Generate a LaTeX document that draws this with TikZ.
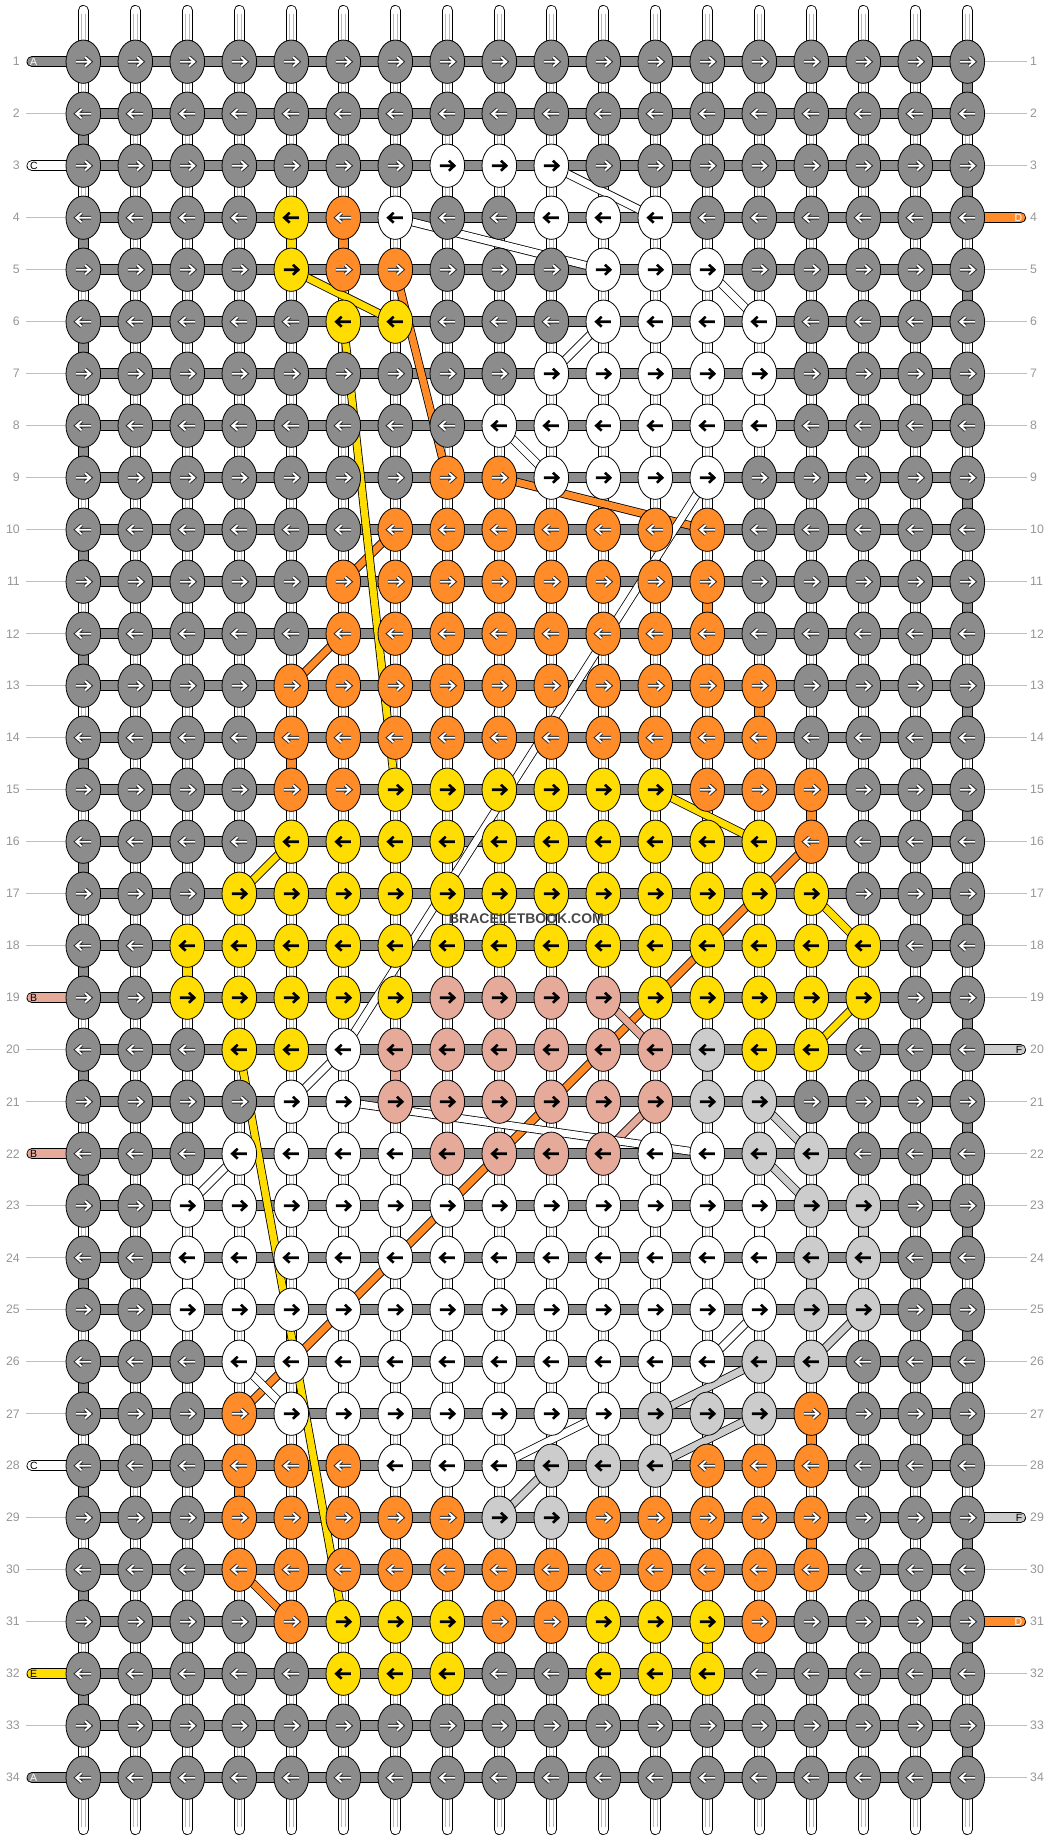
\documentclass[tikz,border=0pt]{standalone}
\usepackage{fontspec}
\setmainfont{Liberation Sans}
\usetikzlibrary{shapes.geometric}
\definecolor{cG}{RGB}{140,140,140}
\definecolor{cW}{RGB}{255,255,255}
\definecolor{cO}{RGB}{255,140,40}
\definecolor{cY}{RGB}{255,221,0}
\definecolor{cS}{RGB}{230,170,155}
\definecolor{cL}{RGB}{204,204,204}
\definecolor{numgray}{RGB}{150,150,150}
\definecolor{guide}{RGB}{190,190,190}
\definecolor{strline}{RGB}{185,185,185}
\newcommand\vcn[4]{\draw[vbar, double=#1] (p-#2-#3) -- (p-#2-#4);}
\newcommand\dgl[5]{\draw[band, double=#1] (p-#2-#3) -- (p-#4-#5);}
\newcommand\arrdark{%
  \draw[black!85, line width=3.8pt, line join=miter] (-7.5,0) -- (6.2,0) (1.8,-4.6) -- (7,0) -- (1.8,4.6);
  \draw[white, line width=1.9pt, line join=miter] (-7.5,0) -- (6.2,0) (1.8,-4.6) -- (7,0) -- (1.8,4.6);}
\newcommand\arrlight{%
  \draw[black, line width=2.6pt, line join=miter] (-7.5,0) -- (6.2,0) (1.6,-5) -- (7,0) -- (1.6,5);}
\def\mydG{G}\def\mydO{O}
\begin{document}
\begin{tikzpicture}[x=1pt,y=-1pt,
  knot/.style={ellipse, draw=black, line width=0.8pt, minimum width=34.6pt, minimum height=43.3pt, inner sep=0pt},
  band/.style={draw=black, line width=0.8pt, double distance=7pt},
  vbar/.style={draw=black, line width=0.8pt, double distance=9.4pt},
  num/.style={font=\fontsize{12.3}{13}\selectfont, text=numgray, inner sep=0pt},
  stubtxt/.style={font=\fontsize{10.5}{11}\selectfont, inner sep=0pt},
  guideline/.style={draw=guide, line width=0.8pt}]
\useasboundingbox (0,0) rectangle (1052,1840);
% grid coordinates
\foreach \r in {1,...,34} {
  \foreach \c in {1,...,18} {
    \coordinate (p-\c-\r) at ({83.3+52*(\c-1)},{61.7+52*(\r-1)});
  }
  \coordinate (ls-\r) at (32,{61.7+52*(\r-1)});
  \coordinate (rs-\r) at (1020.5,{61.7+52*(\r-1)});
  \coordinate (lg-\r) at (26,{61.7+52*(\r-1)});
  \coordinate (rg-\r) at (1027,{61.7+52*(\r-1)});
}
% vertical strings
\foreach \c in {1,...,18} {
  \coordinate (t-\c) at ({83.3+52*(\c-1)},10.5);
  \coordinate (b-\c) at ({83.3+52*(\c-1)},1829.5);
  \draw[vbar, double=white, line cap=round] (t-\c) -- (b-\c);
  \draw[strline, line width=0.7pt] ([xshift=-2pt,yshift=-3pt]t-\c) -- ([xshift=-2pt,yshift=3pt]b-\c)
       ([xshift=2pt,yshift=-3pt]t-\c) -- ([xshift=2pt,yshift=3pt]b-\c);
}
% horizontal bars (string A)
\foreach \r in {1,...,34} { \draw[vbar, double=cG] (p-1-\r) -- (p-18-\r); }
% turning of A at the edges
\foreach \r [evaluate=\r as \rn using int(\r+1)] in {1,3,...,33} { \vcn{cG}{18}{\r}{\rn} }
\foreach \r [evaluate=\r as \rn using int(\r+1)] in {2,4,...,32} { \vcn{cG}{1}{\r}{\rn} }
% guide lines
\foreach \r in {2,4,5,6,7,8,9,10,11,12,13,14,15,16,17,18,20,21,23,24,25,26,27,29,30,31,33} { \draw[guideline] (lg-\r) -- (p-1-\r); }
\foreach \r in {1,2,3,5,6,7,8,9,10,11,12,13,14,15,16,17,18,19,21,22,23,24,25,26,27,28,30,32,33,34} { \draw[guideline] (rg-\r) -- (p-18-\r); }
% stubs
\foreach \r/\col in {1/cG,3/cW,19/cS,22/cS,28/cW,32/cY,34/cG} { \draw[vbar, double=\col, line cap=round] (ls-\r) -- (p-1-\r); }
\foreach \r/\col in {4/cO,20/cL,29/cL,31/cO} { \draw[vbar, double=\col, line cap=round] (rs-\r) -- (p-18-\r); }
% vertical connectors
\vcn{cO}{6}{4}{5} \vcn{cO}{13}{11}{12} \vcn{cO}{14}{13}{14} \vcn{cO}{5}{14}{15}
\vcn{cO}{15}{15}{16} \vcn{cO}{15}{27}{28} \vcn{cO}{4}{28}{29} \vcn{cO}{15}{29}{30}
\vcn{cY}{5}{4}{5} \vcn{cY}{3}{18}{19} \vcn{cY}{13}{31}{32}
\vcn{cW}{14}{7}{8} \vcn{cW}{14}{23}{24} \vcn{cW}{3}{24}{25}
\vcn{cS}{7}{20}{21}
\vcn{cL}{13}{20}{21} \vcn{cL}{16}{23}{24} \vcn{cL}{15}{24}{25}
% diagonal connectors
\dgl{cO}{7}{5}{8}{9} \dgl{cO}{9}{9}{13}{10} \dgl{cO}{7}{10}{6}{11} \dgl{cO}{6}{12}{5}{13}
\dgl{cO}{15}{16}{4}{27} \dgl{cO}{4}{30}{5}{31}
\dgl{cY}{5}{5}{7}{6} \dgl{cY}{6}{6}{7}{15} \dgl{cY}{12}{15}{14}{16} \dgl{cY}{5}{16}{4}{17}
\dgl{cY}{15}{17}{16}{18} \dgl{cY}{16}{19}{15}{20} \dgl{cY}{4}{20}{6}{31}
\dgl{cL}{14}{21}{15}{22} \dgl{cL}{14}{22}{15}{23} \dgl{cL}{16}{25}{15}{26} \dgl{cL}{14}{26}{12}{27}
\dgl{cL}{14}{27}{12}{28} \dgl{cL}{10}{28}{9}{29}
\dgl{cS}{11}{19}{12}{20} \dgl{cS}{12}{21}{11}{22}
\dgl{cW}{10}{3}{12}{4} \dgl{cW}{7}{4}{11}{5} \dgl{cW}{13}{5}{14}{6} \dgl{cW}{11}{6}{10}{7}
\dgl{cW}{9}{8}{10}{9} \dgl{cW}{13}{9}{6}{20} \dgl{cW}{6}{20}{5}{21} \dgl{cW}{6}{21}{13}{22}
\dgl{cW}{4}{22}{3}{23} \dgl{cW}{14}{25}{13}{26} \dgl{cW}{4}{26}{5}{27} \dgl{cW}{11}{27}{9}{28}
% knots
\foreach \r/\row in {
1/{G,G,G,G,G,G,G,G,G,G,G,G,G,G,G,G,G,G},
2/{G,G,G,G,G,G,G,G,G,G,G,G,G,G,G,G,G,G},
3/{G,G,G,G,G,G,G,W,W,W,G,G,G,G,G,G,G,G},
4/{G,G,G,G,Y,O,W,G,G,W,W,W,G,G,G,G,G,G},
5/{G,G,G,G,Y,O,O,G,G,G,W,W,W,G,G,G,G,G},
6/{G,G,G,G,G,Y,Y,G,G,G,W,W,W,W,G,G,G,G},
7/{G,G,G,G,G,G,G,G,G,W,W,W,W,W,G,G,G,G},
8/{G,G,G,G,G,G,G,G,W,W,W,W,W,W,G,G,G,G},
9/{G,G,G,G,G,G,G,O,O,W,W,W,W,G,G,G,G,G},
10/{G,G,G,G,G,G,O,O,O,O,O,O,O,G,G,G,G,G},
11/{G,G,G,G,G,O,O,O,O,O,O,O,O,G,G,G,G,G},
12/{G,G,G,G,G,O,O,O,O,O,O,O,O,G,G,G,G,G},
13/{G,G,G,G,O,O,O,O,O,O,O,O,O,O,G,G,G,G},
14/{G,G,G,G,O,O,O,O,O,O,O,O,O,O,G,G,G,G},
15/{G,G,G,G,O,O,Y,Y,Y,Y,Y,Y,O,O,O,G,G,G},
16/{G,G,G,G,Y,Y,Y,Y,Y,Y,Y,Y,Y,Y,O,G,G,G},
17/{G,G,G,Y,Y,Y,Y,Y,Y,Y,Y,Y,Y,Y,Y,G,G,G},
18/{G,G,Y,Y,Y,Y,Y,Y,Y,Y,Y,Y,Y,Y,Y,Y,G,G},
19/{G,G,Y,Y,Y,Y,Y,S,S,S,S,Y,Y,Y,Y,Y,G,G},
20/{G,G,G,Y,Y,W,S,S,S,S,S,S,L,Y,Y,G,G,G},
21/{G,G,G,G,W,W,S,S,S,S,S,S,L,L,G,G,G,G},
22/{G,G,G,W,W,W,W,S,S,S,S,W,W,L,L,G,G,G},
23/{G,G,W,W,W,W,W,W,W,W,W,W,W,W,L,L,G,G},
24/{G,G,W,W,W,W,W,W,W,W,W,W,W,W,L,L,G,G},
25/{G,G,W,W,W,W,W,W,W,W,W,W,W,W,L,L,G,G},
26/{G,G,G,W,W,W,W,W,W,W,W,W,W,L,L,G,G,G},
27/{G,G,G,O,W,W,W,W,W,W,W,L,L,L,O,G,G,G},
28/{G,G,G,O,O,O,W,W,W,L,L,L,O,O,O,G,G,G},
29/{G,G,G,O,O,O,O,O,L,L,O,O,O,O,O,G,G,G},
30/{G,G,G,O,O,O,O,O,O,O,O,O,O,O,O,G,G,G},
31/{G,G,G,G,O,Y,Y,Y,O,O,Y,Y,Y,O,G,G,G,G},
32/{G,G,G,G,G,Y,Y,Y,G,G,Y,Y,Y,G,G,G,G,G},
33/{G,G,G,G,G,G,G,G,G,G,G,G,G,G,G,G,G,G},
34/{G,G,G,G,G,G,G,G,G,G,G,G,G,G,G,G,G,G}} {
  \foreach \k [count=\c] in \row {
    \node[knot, fill=c\k] (k-\c-\r) at (p-\c-\r) {};
    \edef\kk{\k}%
    \ifodd\r\relax \def\dir{1}\else \def\dir{-1}\fi
    \begin{scope}[shift={(p-\c-\r)}, xscale=\dir]
      \ifx\kk\mydG \arrdark\else\ifx\kk\mydO \arrdark\else \arrlight\fi\fi
    \end{scope}
  }
}
% row numbers
\foreach \r in {1,...,34} {
  \node[num, anchor=east] (ln-\r) at ([xshift=-6pt]lg-\r) {\r};
  \node[num, anchor=west] (rn-\r) at ([xshift=3pt]rg-\r) {\r};
}
% stub letters
\foreach \r/\t/\tc in {1/A/white,3/C/black,19/B/black,22/B/black,28/C/black,32/E/black,34/A/white} {
  \node[stubtxt, text=\tc, anchor=west] (lt-\r) at ([xshift=-2pt]ls-\r) {\t};
}
\foreach \r/\t/\tc in {4/D/white,20/F/black,29/F/black,31/D/white} {
  \node[stubtxt, text=\tc, anchor=east] (rt-\r) at ([xshift=2pt]rs-\r) {\t};
}
% watermark
\node[font=\bfseries\fontsize{14}{14}\selectfont, text=black!72, inner sep=0pt] (wm) at (526.5,919) {BRACELETBOOK.COM};
\end{tikzpicture}
\end{document}
